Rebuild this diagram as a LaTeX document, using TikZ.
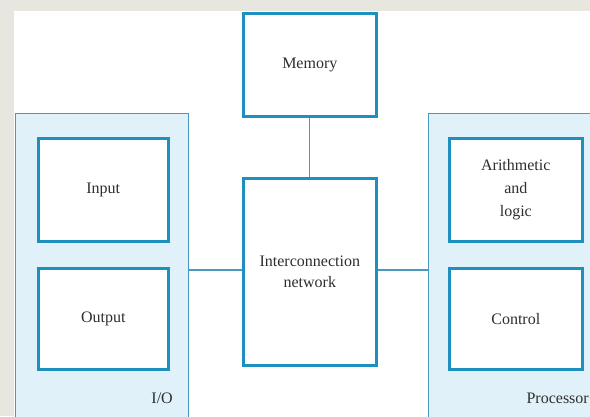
\documentclass[tikz,border=0pt]{standalone}
\usepackage{fontspec}
\setmainfont{Liberation Serif}
\definecolor{bgrey}{HTML}{E7E7E0}
\definecolor{boxline}{HTML}{1E90C0}
\definecolor{grpfill}{HTML}{E0F1FA}
\definecolor{grpline}{HTML}{4A98BC}
\definecolor{txt}{HTML}{2E2E2E}
\tikzset{
  unitbox/.style={draw=boxline, line width=2.6pt, fill=white, inner sep=0pt, text=txt, align=center, font=\fontsize{16}{23}\selectfont},
  grpbox/.style={draw=grpline, line width=1pt, fill=grpfill, inner sep=0pt},
  link/.style={draw=grpline, line width=1.2pt},
  grplabel/.style={text=txt, font=\fontsize{16}{19}\selectfont, inner sep=0pt}
}
\begin{document}
\begin{tikzpicture}[x=1pt,y=-1pt]
\useasboundingbox (0,0) rectangle (590,416);
\clip (0,0) rectangle (590,416);
\fill[bgrey] (0,0) rectangle (590,416);
\fill[white] (14,11) rectangle (590,416);
% groups
\node[grpbox, minimum width=173pt, minimum height=320pt, anchor=north west] (io) at (15,113) {};
\node[grpbox, minimum width=180pt, minimum height=320pt, anchor=north west] (proc) at (428,113) {};
% boxes
\node[unitbox, minimum width=133pt, minimum height=103pt, anchor=north west] (mem) at (242,12) {Memory};
\node[unitbox, minimum width=133pt, minimum height=187pt, anchor=north west, font=\fontsize{16}{21}\selectfont] (net) at (242,177) {Interconnection\\network};
\node[unitbox, minimum width=130pt, minimum height=103pt, anchor=north west] (in) at (37,137) {Input};
\node[unitbox, minimum width=130pt, minimum height=101pt, anchor=north west] (out) at (37,267) {Output};
\node[unitbox, minimum width=133pt, minimum height=103pt, anchor=north west] (alu) at (448,137) {Arithmetic\\and\\logic};
\node[unitbox, minimum width=133pt, minimum height=101pt, anchor=north west] (ctl) at (448,267) {Control};
% labels
\node[grplabel, anchor=base east] (iolab) at (173,403) {I/O};
\node[grplabel, anchor=base east] (proclab) at (589,403) {Processor};
% links
\draw[link] (mem.south) -- (net.north);
\draw[link] (net.west |- 0,270) -- (io.east |- 0,270);
\draw[link] (net.east |- 0,270) -- (proc.west |- 0,270);
\end{tikzpicture}
\end{document}
